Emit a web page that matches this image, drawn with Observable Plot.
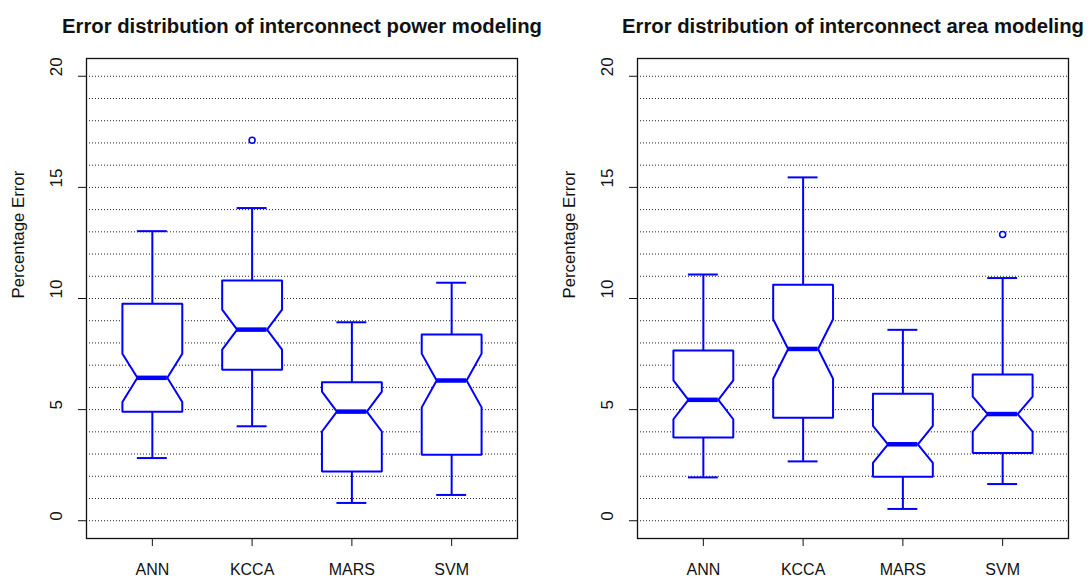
<!DOCTYPE html>
<html>
<head>
<meta charset="utf-8">
<script src="https://cdn.jsdelivr.net/npm/d3@7"></script>
<script src="https://cdn.jsdelivr.net/npm/@observablehq/plot@0.6"></script>
<style>
  html, body { margin: 0; padding: 0; background: #fff; }
  #wrap { display: flex; width: 1090px; height: 580px; }
  svg { font-family: "Liberation Sans", Arial, Helvetica, sans-serif; }
</style>
</head>
<body>
<div id="wrap"></div>
<script>
const categories = ["ANN", "KCCA", "MARS", "SVM"];
const sampleSize = [50, 50, 50, 50];
const yTicks = [0, 5, 10, 15, 20];
const gridValues = d3.range(0, 21);

// Interconnect power modeling
const powerTitle = "Error distribution of interconnect power modeling";
const powerLowerWhisker = [2.82, 4.25, 0.80, 1.16];
const powerQ1 = [4.90, 6.79, 2.22, 2.97];
const powerMedian = [6.43, 8.60, 4.91, 6.31];
const powerQ3 = [9.76, 10.81, 6.23, 8.38];
const powerUpperWhisker = [13.03, 14.07, 8.93, 10.71];
const powerOutlierCats = ["KCCA"];
const powerOutlierValues = [17.12];

// Interconnect area modeling
const areaTitle = "Error distribution of interconnect area modeling";
const areaLowerWhisker = [1.95, 2.67, 0.53, 1.65];
const areaQ1 = [3.75, 4.63, 1.98, 3.05];
const areaMedian = [5.44, 7.73, 3.44, 4.80];
const areaQ3 = [7.66, 10.62, 5.71, 6.58];
const areaUpperWhisker = [11.08, 15.45, 8.59, 10.92];
const areaOutlierCats = ["SVM"];
const areaOutlierValues = [12.88];

const BLUE = "#0000ff";
const HALF = 0.3; // half box width in category units

function makeChart(title, lo, q1, med, q3, hi, oCats, oVals, marginLeft, marginRight) {
  const stats = categories.map((c, i) => {
    const notch = 1.58 * (q3[i] - q1[i]) / Math.sqrt(sampleSize[i]);
    return {cat: c, pos: i + 1, lo: lo[i], q1: q1[i], med: med[i], q3: q3[i], hi: hi[i],
            nHi: med[i] + notch, nLo: med[i] - notch};
  });
  const poly = [];
  stats.forEach((s, i) => {
    const p = s.pos;
    const pts = [
      [p - HALF, s.q3], [p + HALF, s.q3], [p + HALF, s.nHi], [p + HALF / 2, s.med],
      [p + HALF, s.nLo], [p + HALF, s.q1], [p - HALF, s.q1], [p - HALF, s.nLo],
      [p - HALF / 2, s.med], [p - HALF, s.nHi], [p - HALF, s.q3]
    ];
    pts.forEach(([x, y]) => poly.push({x, y, z: i}));
  });
  const outliers = oCats.map((c, i) => ({pos: categories.indexOf(c) + 1, value: oVals[i]}));

  return Plot.plot({
    width: 545,
    height: 580,
    marginLeft,
    marginRight,
    marginTop: 58,
    marginBottom: 42,
    style: {fontFamily: '"Liberation Sans", Arial, Helvetica, sans-serif', background: "#fff"},
    x: {domain: [0.34, 4.66], label: null},
    y: {domain: [-0.8, 20.8], label: null},
    marks: [
      Plot.ruleY(gridValues, {y: d => d, stroke: "#222", strokeWidth: 1, strokeDasharray: "1,2"}),
      Plot.ruleX(stats, {x: "pos", y1: "q3", y2: "hi", stroke: BLUE, strokeWidth: 2}),
      Plot.ruleX(stats, {x: "pos", y1: "q1", y2: "lo", stroke: BLUE, strokeWidth: 2}),
      Plot.ruleY(stats, {y: "hi", x1: d => d.pos - HALF / 2, x2: d => d.pos + HALF / 2, stroke: BLUE, strokeWidth: 2}),
      Plot.ruleY(stats, {y: "lo", x1: d => d.pos - HALF / 2, x2: d => d.pos + HALF / 2, stroke: BLUE, strokeWidth: 2}),
      Plot.line(poly, {x: "x", y: "y", z: "z", stroke: BLUE, fill: "white", strokeWidth: 2, strokeLinejoin: "miter"}),
      Plot.ruleY(stats, {y: "med", x1: d => d.pos - HALF / 2, x2: d => d.pos + HALF / 2, stroke: BLUE, strokeWidth: 4.5}),
      Plot.dot(outliers, {x: "pos", y: "value", r: 3, stroke: BLUE, fill: "white", strokeWidth: 1.6}),
      Plot.frame({stroke: "#111", strokeWidth: 1.3}),
      Plot.axisY({ticks: yTicks, tickSize: 8, tickFormat: () => "", label: null, stroke: "#111"}),
      Plot.text(yTicks, {y: d => d, text: d => String(d), frameAnchor: "left", dx: -30, rotate: -90, fontSize: 17, fill: "#111"}),
      Plot.axisX({ticks: [1, 2, 3, 4], tickFormat: d => categories[d - 1], tickSize: 8, tickPadding: 17, fontSize: 16, label: null, stroke: "#111", fill: "#111"}),
      Plot.text(["Percentage Error"], {frameAnchor: "left", dx: -68, rotate: -90, fontSize: 16.8, fill: "#111"}),
      Plot.text([title], {frameAnchor: "top", dy: -40, fontSize: 20.3, fontWeight: "bold", fill: "#111"})
    ]
  });
}

const wrap = document.getElementById("wrap");
wrap.appendChild(makeChart(powerTitle, powerLowerWhisker, powerQ1, powerMedian, powerQ3, powerUpperWhisker,
  powerOutlierCats, powerOutlierValues, 86, 28));
wrap.appendChild(makeChart(areaTitle, areaLowerWhisker, areaQ1, areaMedian, areaQ3, areaUpperWhisker,
  areaOutlierCats, areaOutlierValues, 92, 22));
</script>
</body>
</html>
